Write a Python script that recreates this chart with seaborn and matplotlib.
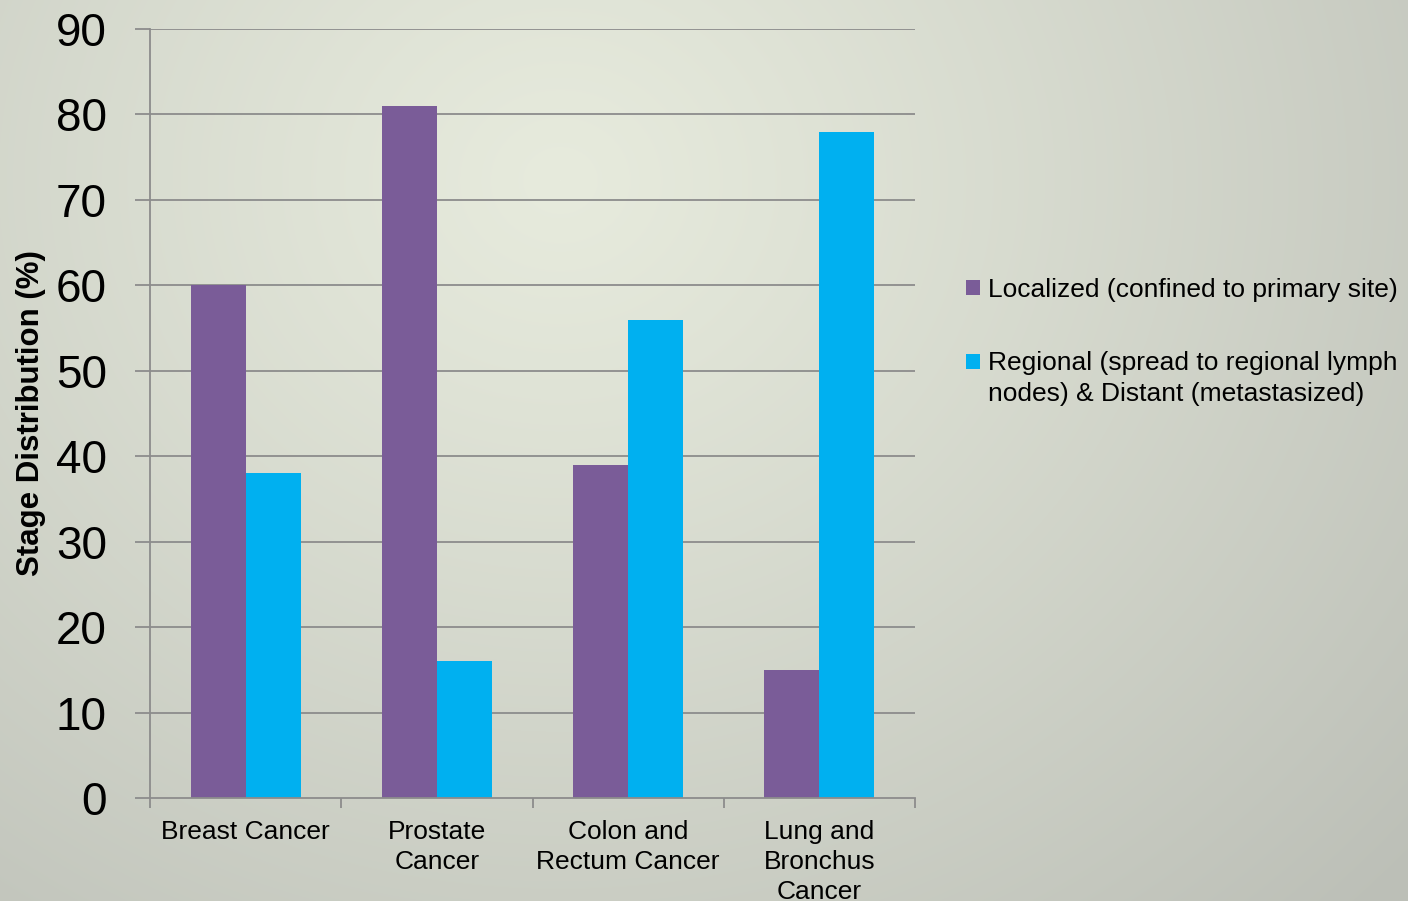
import numpy as np
import pandas as pd
import matplotlib
matplotlib.use("Agg")
import matplotlib.pyplot as plt
import seaborn as sns
from matplotlib.patches import Patch, Rectangle
from matplotlib.legend_handler import HandlerPatch

categories = ["Breast Cancer", "Prostate\nCancer", "Colon and\nRectum Cancer", "Lung and\nBronchus\nCancer"]
series_names = ["Localized (confined to primary site)",
                "Regional (spread to regional lymph\nnodes) & Distant (metastasized)"]
localized = [60, 81, 39, 15]
regional_distant = [38, 16, 56, 78]
y_ticks = [0, 10, 20, 30, 40, 50, 60, 70, 80, 90]
colors = ["#7A5C98", "#00B0F0"]

df = pd.DataFrame({
    "category": categories * 2,
    "series": [series_names[0]] * 4 + [series_names[1]] * 4,
    "value": localized + regional_distant,
})

sns.set_theme(style="white")
plt.rcParams["font.family"] = ["Liberation Sans", "DejaVu Sans"]
plt.rcParams["text.color"] = "black"

W, H = 1408, 901
fig = plt.figure(figsize=(W / 100, H / 100), dpi=100)

# background gradient
yy, xx = np.mgrid[0:H, 0:W]
d = np.sqrt(((xx - 560) / 1.0) ** 2 + ((yy - 180) / 0.9) ** 2)
t = np.clip(d / 1150.0, 0, 1) ** 1.1
inner = np.array([231, 235, 221]) / 255.0
outer = np.array([188, 191, 183]) / 255.0
img = inner[None, None, :] * (1 - t[..., None]) + outer[None, None, :] * t[..., None]
bg = fig.add_axes([0, 0, 1, 1], zorder=-10)
bg.imshow(img, aspect="auto", extent=[0, 1, 0, 1], origin="upper")
bg.axis("off")

ax = fig.add_axes([150 / W, 1 - 798 / H, (915 - 150) / W, (798 - 29) / H])
ax.patch.set_alpha(0)

sns.barplot(data=df, x="category", y="value", hue="series", palette=colors,
            width=0.575, saturation=1, ax=ax, legend=False, zorder=3,
            edgecolor="none", linewidth=0)

gc = "#8C8C8C"
ax.set_ylim(0, 90)
ax.set_xlim(-0.5, 3.5)
ax.set_yticks(y_ticks)
ax.set_yticklabels([str(v) for v in y_ticks], fontsize=33, color="black")
for v in y_ticks[1:]:
    ax.axhline(v, color=gc, lw=1.3, zorder=1)
ax.tick_params(axis="y", length=11, width=1.3, color=gc, pad=20, left=True)
ax.tick_params(axis="x", which="major", length=0, pad=16, labelsize=19, labelcolor="black")
ax.set_xticks(np.arange(-0.5, 4, 1), minor=True)
ax.tick_params(axis="x", which="minor", length=7, width=1.3, color=gc, bottom=True)
for lbl in ax.get_xticklabels():
    lbl.set_multialignment("center")
    lbl.set_linespacing(1.3)

for s in ["top", "right"]:
    ax.spines[s].set_visible(False)
for s in ["left", "bottom"]:
    ax.spines[s].set_color(gc)
    ax.spines[s].set_linewidth(1.3)
    ax.spines[s].set_zorder(4)

ax.set_xlabel("")
ax.set_ylabel("Stage Distribution (%)", fontsize=22.5, fontweight="bold", color="black")
ax.yaxis.set_label_coords((46 - 150) / (915 - 150), 0.5)


def top_square(legend, orig_handle, xdescent, ydescent, width, height, fontsize):
    shift = 0.66 * fontsize
    return Rectangle((-xdescent, -ydescent + shift), width, height)


handles = [Patch(facecolor=c, edgecolor="none") for c in colors]
leg = fig.legend(handles, series_names, loc="upper left", bbox_to_anchor=(966 / W, 1 - 278 / H),
                 frameon=False, fontsize=19, handlelength=0.52, handleheight=0.52,
                 handletextpad=0.3, labelspacing=1.85, borderpad=0, borderaxespad=0,
                 handler_map={handles[1]: HandlerPatch(patch_func=top_square)})
for txt in leg.get_texts():
    txt.set_linespacing(1.4)
    txt.set_color("black")

fig.savefig("out.png", dpi=100)
